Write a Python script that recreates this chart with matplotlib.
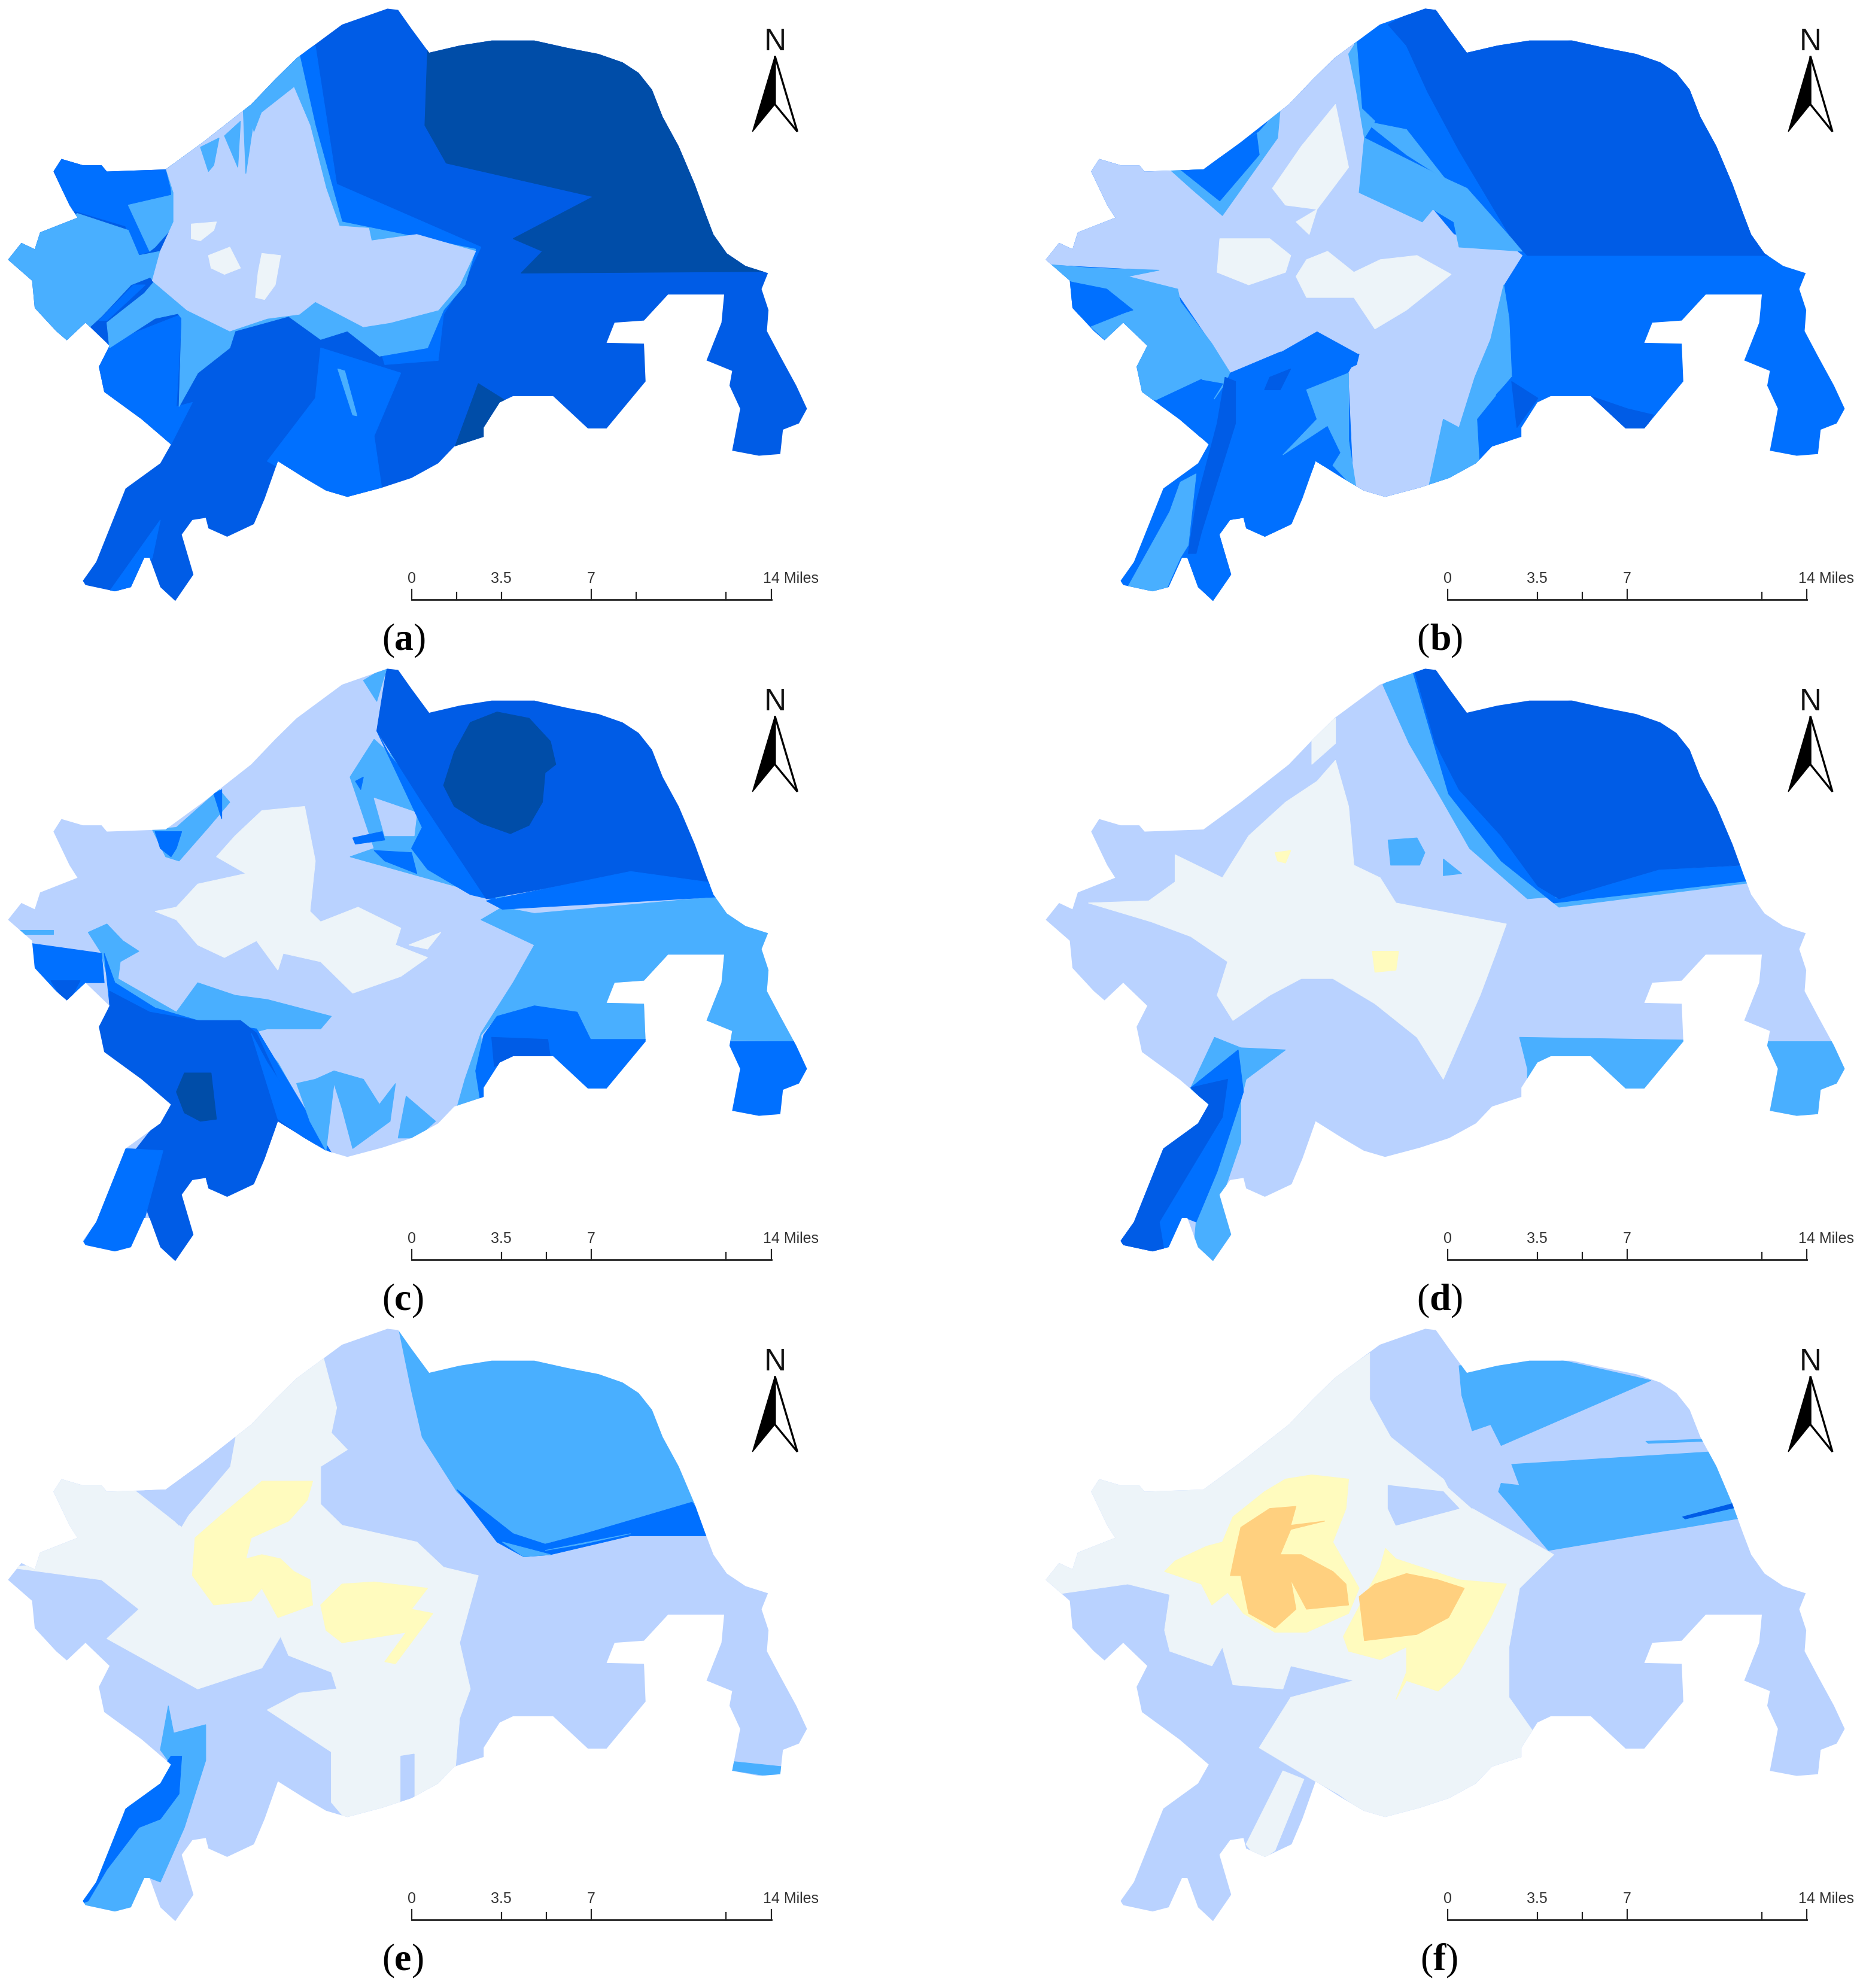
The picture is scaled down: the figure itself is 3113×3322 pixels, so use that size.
"""Six-panel map of the study area, traced by eye from the figure."""
import matplotlib
matplotlib.use('Agg')
import matplotlib.pyplot as plt
from matplotlib.patches import Polygon

W, H = 3113, 3323
SX_L, SX_R, SY = 0.893, 0.8788, 0.7015   # traced units -> pixels

DARK, BLUE, MID, LIGHT = '#004DA8', '#005CE6', '#0070FF', '#49AFFF'
PALE, ICE, YEL, ORA = '#B9D2FF', '#EDF4F9', '#FFFBBE', '#FFD07F'

outline = [(725,22),(745,25),(770,70),(803,127),(860,110),(920,98),(1000,98),(1060,115),(1120,130),(1165,150),(1195,175),(1220,215),(1240,280),
    (1270,350),(1300,440),(1320,510),(1335,560),(1360,605),(1395,635),(1437,652),(1425,690),(1438,740),(1435,790),(1460,850),
    (1490,920),(1510,975),(1495,1010),(1465,1025),(1460,1083),(1420,1087),(1370,1075),(1385,975),(1365,920),(1370,885),
    (1322,860),(1350,770),(1355,703),(1250,703),(1205,765),(1150,770),(1135,818),(1205,820),(1208,910),(1135,1022),
    (1100,1022),(1035,945),(960,945),(935,960),(905,1020),(905,1042),(850,1065),(820,1105),(770,1140),(715,1163),
    (650,1185),(610,1170),(570,1140),(520,1100),(495,1190),(475,1250),(425,1280),(390,1260),(385,1235),(360,1240),
    (340,1275),(362,1370),(328,1433),(300,1400),(280,1330),(270,1330),(245,1400),(215,1410),(160,1395),(155,1385),
    (180,1340),(235,1165),(300,1105),(320,1060),(265,1000),(195,935),(185,875),(205,825),(160,770),(125,812),
    (105,790),(65,735),(60,670),(15,620),(40,580),(65,595),(75,555),(145,520),(130,490),(100,410),
    (115,380),(155,395),(190,395),(200,410),(310,405),(380,340),(470,250),(515,190),(555,140),(640,60)]

# ---- panel a ----
a_nw = [(90,370),(320,395),(330,470),(240,490),(282,600),(250,612),(235,540),(130,500)]
a_band = [(555,130),(590,110),(630,440),(900,590),(870,670),(830,750),(820,860),(720,870),(640,530)]
a_sw = [(180,830),(340,750),(330,970),(360,960),(320,1060),(265,1010),(170,940)]
a_fan = [(600,830),(750,890),(700,1040),(715,1170),(640,1200),(500,1100),(590,950)]
a_arm = [(205,1410),(300,1240),(285,1330),(245,1410)]
a_west = [(0,620),(40,570),(75,545),(145,510),(240,550),(260,610),(300,600),(285,660),(245,680),(190,755),(125,830),(50,740)]
a_nw2 = [(240,490),(325,465),(325,540),(290,590),(280,600)]
a_strip = [(200,770),(270,700),(290,670),(345,745),(290,760),(205,830)]
a_stripe = [(185,765),(250,680),(272,680),(200,765)]
a_light = [(310,400),(470,240),(520,160),(560,130),(590,300),(640,530),(890,595),(870,680),(830,740),(800,830),
    (710,850),(650,790),(600,810),(540,755),(440,790),(430,830),(370,890),(335,970),(340,760),(280,660),(300,600),(325,540),(320,450)]
a_pale = [(310,400),(380,335),(460,250),(475,320),(490,270),(520,240),(550,210),(580,300),
    (610,450),(635,540),(690,545),(695,575),(780,560),(890,600),(860,680),(820,740),(730,770),(680,780),(590,720),
    (560,750),(500,760),(430,790),(350,740),(285,670),(300,600),(325,530),(325,460)]
a_st1 = [(375,352),(410,330),(400,395),(390,410)]
a_st2 = [(420,325),(450,290),(445,400)]
a_st3 = [(455,260),(480,245),(470,330),(460,415)]
a_st4 = [(632,880),(645,885),(668,992),(660,990)]
a_ice1 = [(358,535),(405,530),(400,550),(375,575),(358,570)]
a_ice2 = [(390,610),(430,590),(450,640),(420,655),(395,640)]
a_ice3 = [(490,605),(525,610),(515,680),(495,715),(478,710),(483,650)]
a_ne = [(800,120),(860,100),(960,87),(1060,105),(1165,140),(1220,190),(1255,260),(1290,350),(1320,440),(1355,560),
    (1380,600),(1415,630),(1450,648),(975,652),(1015,600),(960,570),(1110,470),(835,390),(795,300)]
a_se = [(895,915),(945,955),(905,1045),(850,1070)]

# ---- panel b ----
b_ne = [(665,60),(740,10),(780,50),(810,115),(960,87),(1180,130),(1270,240),(1330,420),(1385,590),(1410,610),(930,610),(900,570),(800,360),(740,220),(700,110)]
b_pale = [(0,620),(40,570),(65,585),(75,555),(145,520),(90,410),(115,370),(190,385),(250,405),(290,450),(350,515),
    (415,330),(460,250),(520,165),(600,95),(605,220),(620,330),(610,460),(730,530),(750,500),(790,560),(900,590),
    (920,610),(885,680),(860,810),(830,900),(800,1020),(770,1000),(740,1175),(650,1200),(600,1160),(590,890),(610,845),
    (530,790),(460,840),(365,890),(330,820),(265,700),(170,660),(230,645),(0,630)]
b_band1 = [(590,130),(605,100),(615,260),(640,290),(620,330),(605,220)]
b_band2 = [(620,290),(700,310),(775,430),(700,370)]
b_east = [(620,330),(780,430),(815,450),(900,570),(920,600),(800,590),(790,530),(750,500),(730,530),(610,460)]
b_west = [(5,630),(60,670),(180,740),(100,780),(135,820),(160,770),(205,825),(175,875),(195,945),(225,955),(310,905),
    (355,915),(330,960),(365,890),(330,820),(270,720),(265,690),(170,660),(230,645),(100,640)]
b_west2 = [(50,670),(130,690),(180,740),(100,770),(55,735)]
b_nw_l = [(250,405),(320,405),(420,315),(460,260),(455,330),(350,515),(290,450)]
b_nw_m = [(270,405),(310,405),(415,320),(420,370),(345,480),(290,425)]
b_sw = [(225,955),(310,905),(335,955),(320,1050),(260,1010)]
b_south = [(365,890),(460,840),(610,845),(605,870),(520,920),(500,960),(550,1015),(575,1080),(560,1110),(525,1110),
    (495,1190),(475,1260),(425,1290),(390,1260),(385,1235),(345,1275),(372,1370),(328,1445),(290,1400),(280,1330),
    (250,1300),(300,1140),(320,1060),(340,980)]
b_streak = [(355,900),(375,910),(375,1010),(310,1270),(300,1320),(285,1320),(300,1200),(340,1010)]
b_spot = [(440,900),(480,880),(460,930),(430,930)]
b_arm = [(170,1400),(240,1415),(270,1330),(285,1300),(300,1130),(270,1150),(250,1220)]
b_mid = [(510,930),(590,890),(590,1050),(605,1170),(560,1110),(575,1080),(550,1015),(465,1085),(530,1000)]
b_right = [(740,1175),(770,1000),(800,1020),(830,900),(860,810),(885,680),(895,760),(900,900),(870,940),(835,1110),(800,1140)]
b_low_m = [(840,1110),(835,1000),(880,930),(900,900),(950,950),(915,1020),(915,1040),(860,1070),(860,1110)]
b_low_b = [(900,910),(950,950),(910,1020)]
b_ice1 = [(565,250),(590,400),(530,500),(470,490),(445,450),(500,350)]
b_ice2 = [(345,570),(440,570),(480,610),(470,650),(400,680),(340,650)]
b_ice3 = [(510,620),(550,600),(600,650),(650,620),(720,610),(785,655),(700,740),(640,785),(600,710),(510,710),(490,660)]
b_ice4 = [(490,530),(530,500),(515,560)]
b_bay = [(1050,945),(1120,975),(1170,990),(1150,1030),(1115,1030)]

# ---- panel c ----
c_light = [(655,280),(700,190),(830,340),(950,575),(655,470),(700,450)]
c_hole = [(700,330),(780,365),(775,420),(720,420)]
c_edge = [(705,170),(730,230),(800,330),(930,575),(880,560),(800,500),(770,450),(790,400)]
c_ne = [(705,170),(725,10),(760,20),(810,120),(960,87),(1180,140),(1255,260),(1320,440),(1355,540),(1180,510),(910,570),(790,340)]
c_band = [(910,575),(1180,505),(1350,535),(1350,565),(940,595)]
c_st1 = [(660,425),(715,410),(720,430),(665,440)]
c_st2 = [(700,455),(770,460),(780,510),(720,480)]
c_st3 = [(665,290),(680,280),(675,310)]
c_east = [(900,620),(940,590),(1000,605),(1345,565),(1600,565),(1600,910),(1105,905),(1080,840),(1000,825),(930,850),(900,895),
    (905,1040),(850,1090),(870,1000),(900,890),(960,770),(1000,680)]
c_se_m = [(905,895),(930,850),(1000,825),(1080,840),(1105,905),(1300,905),(1300,1100),(905,1100),(890,980)]
c_se_b = [(920,900),(1025,905),(1030,950),(960,950),(925,970)]
c_arm_e = [(1355,910),(1600,910),(1600,1100),(1350,1100)]
c_west_m = [(50,675),(190,700),(195,770),(160,770),(125,825),(50,740)]
c_west_b = [(95,765),(150,765),(125,825)]
c_west_s = [(30,645),(100,645),(100,655),(40,655)]
c_west_l = [(165,650),(200,630),(230,670),(260,695),(225,720),(220,770),(205,780),(190,700)]
c_strip = [(220,760),(330,840),(370,770),(440,800),(500,810),(620,850),(600,880),(500,880),(470,890),(520,960),(610,1165),
    (520,1090),(470,890),(370,860),(280,840),(205,785)]
c_sw_m = [(195,700),(215,770),(290,830),(370,860),(480,880),(620,1175),(520,1100),(300,1000),(205,820)]
c_sw_b = [(205,790),(280,840),(370,860),(450,860),(480,890),(560,1110),(600,1170),(520,1100),(495,1190),(475,1260),
    (425,1290),(390,1260),(385,1235),(345,1275),(372,1370),(328,1445),(290,1400),(280,1330),(240,1190),(320,1060),(265,1010),(175,940),(175,875),(205,825)]
c_band_sw = [(470,890),(500,960),(610,1170),(570,1140),(520,1095)]
c_arm = [(235,1165),(305,1170),(270,1335),(245,1415),(150,1400),(180,1340)]
c_core = [(345,985),(395,985),(405,1095),(375,1100),(345,1080),(330,1030)]
c_eye = [(930,125),(990,140),(1030,195),(1040,250),(1020,270),(1015,340),(990,395),(955,415),(900,390),(850,350),(830,300),(850,220),(880,150)]
c_fan1 = [(555,1010),(590,1000),(625,980),(680,1000),(710,1060),(740,1010),(730,1100),(660,1165),(640,1070),(625,1010),(610,1170),(580,1100)]
c_fan2 = [(745,1140),(760,1040),(815,1100),(780,1140)]
c_nw_l = [(285,405),(330,400),(410,310),(430,340),(390,400),(335,480),(310,470)]
c_nw_m = [(290,410),(340,410),(330,450),(320,470),(300,450)]
c_nw_s = [(400,320),(415,310),(415,380)]
c_top = [(680,50),(725,15),(705,100)]
c_ice1 = [(490,360),(570,350),(590,480),(580,600),(600,625),(670,590),(750,640),(740,680),(800,710),(750,755),(660,795),
    (600,720),(530,700),(520,740),(480,670),(420,710),(370,680),(330,620),(290,600),(330,590),(370,535),(460,510),(405,470),(440,420)]
c_ice2 = [(765,680),(825,650),(800,690)]

# ---- panel d ----
d_light = [(655,60),(710,15),(780,320),(880,480),(990,590),(1365,530),(1365,525),(930,570),(820,450),(770,340),(705,200)]
d_band = [(710,20),(730,15),(800,310),(880,420),(985,570),(1180,500),(1360,490),(1365,525),(980,580),(880,480),(780,320)]
d_ne = [(715,25),(740,10),(780,50),(810,115),(960,87),(1180,130),(1275,240),(1340,490),(1180,500),(990,570),(950,540),(880,420),(800,310),(755,200)]
d_p1 = [(665,430),(720,425),(735,460),(725,490),(670,490)]
d_p2 = [(770,475),(805,510),(770,515)]
d_se = [(915,900),(1300,908),(1300,1100),(930,1100),(930,975)]
d_arm_e = [(1372,910),(1600,910),(1600,1100),(1380,1100)]
d_ice = [(565,240),(590,350),(600,490),(650,520),(680,580),(890,630),(870,700),(840,800),(770,1000),(720,900),(640,820),
    (560,760),(500,760),(440,800),(370,860),(340,800),(360,720),(290,660),(215,625),(95,580),(210,575),(260,530),(260,465),(350,520),(400,420),(470,340),(530,290)]
d_ice2 = [(520,170),(565,140),(565,200),(520,250)]
d_y1 = [(450,460),(480,455),(470,485),(455,480)]
d_y2 = [(635,695),(685,695),(680,740),(640,745)]
d_sw_l = [(290,1020),(335,900),(385,925),(470,930),(395,1000),(385,1050),(385,1150),(355,1260),(345,1275),(372,1370),(330,1445),(295,1410),(300,1340)]
d_sw_m = [(290,1020),(380,930),(390,1030),(340,1220),(300,1340),(280,1330),(245,1415),(145,1400),(235,1165),(320,1060)]
d_sw_b = [(290,1020),(360,1000),(350,1090),(230,1340),(240,1415),(145,1400),(235,1165),(320,1060)]

# ---- panel e ----
e_ice = [(90,410),(115,370),(190,385),(250,405),(340,495),(440,280),(470,240),(555,130),(605,90),(630,210),(620,270),
    (650,310),(600,350),(600,440),(640,490),(780,530),(830,590),(895,610),(860,770),(880,880),(860,950),(850,1100),(820,1115),
    (650,1195),(620,1150),(620,1030),(500,930),(560,890),(630,880),(620,840),(540,800),(525,755),(490,830),(370,880),(200,760),
    (260,690),(190,620),(15,590),(65,585),(75,545),(145,520),(130,490)]
e_p1 = [(270,405),(310,405),(380,340),(440,280),(430,350),(370,440),(335,490)]
e_y1 = [(490,385),(585,385),(575,430),(540,480),(470,520),(460,570),(490,560),(525,570),(550,600),(580,620),(585,680),(520,710),(490,640),(470,670),(400,680),(360,610),(365,520),(410,470)]
e_y2 = [(640,630),(700,625),(800,640),(770,690),(810,700),(740,820),(720,815),(760,745),(640,770),(610,740),(600,680)]
e_p2 = [(750,1040),(775,1035),(775,1150),(750,1155)]
e_ne = [(745,15),(780,60),(810,115),(960,87),(1180,130),(1265,260),(1310,435),(1100,510),(1030,530),(980,560),(855,410),(790,280),(770,170)]
e_ne_m = [(855,405),(960,510),(1020,535),(1095,510),(1295,435),(1345,515),(1180,515),(1030,560),(980,565),(930,530)]
e_ne_l1 = [(1020,550),(1180,510),(1090,535)]
e_ne_l2 = [(940,530),(980,565),(1030,560)]
e_sw_l = [(315,920),(325,985),(385,965),(385,1050),(345,1210),(300,1340),(280,1330),(245,1415),(145,1400),(240,1160),(320,1060),(300,1025)]
e_sw_m = [(320,1040),(340,1040),(335,1130),(300,1190),(260,1210),(200,1310),(165,1385),(145,1395),(235,1165),(270,1130)]
e_tip = [(1365,1052),(1500,1070),(1500,1100),(1360,1072)]

# ---- panel f ----
f_ice = [(0,620),(40,570),(65,585),(75,545),(145,520),(90,410),(115,370),(190,385),(310,405),(470,240),(520,175),(630,80),(630,190),
    (670,280),(780,390),(825,450),(980,560),(915,640),(895,780),(895,900),(940,980),(925,1040),(870,1090),(840,1125),(655,1205),
    (570,1130),(520,1095),(420,1020),(480,900),(600,860),(480,825),(465,880),(370,870),(350,780),(330,825),(250,790),(240,740),(250,655),(170,630),(30,655)]
f_p1 = [(665,395),(770,410),(800,450),(680,490),(665,450)]
f_p2 = [(740,300),(790,370),(825,450),(780,400)]
f_ice2 = [(465,1075),(505,1095),(450,1265),(420,1290),(395,1250)]
f_y1 = [(520,370),(590,380),(585,450),(560,530),(610,640),(590,700),(510,745),(450,745),(390,700),(360,650),(330,680),(310,630),(240,600),(260,575),(320,540),(350,530),(370,470),(430,410),(470,380)]
f_y2 = [(660,545),(680,570),(800,620),(890,630),(860,710),(800,840),(760,885),(700,860),(680,905),(700,840),(700,780),(650,810),(590,790),(580,755),(620,660),(650,590)]
f_o1 = [(440,450),(490,445),(480,490),(545,480),(480,500),(460,560),(500,560),(560,600),(585,630),(590,680),(510,690),(480,620),(490,690),(450,735),(400,700),(385,610),(365,610),(375,550),(385,495)]
f_o2 = [(700,605),(760,620),(810,640),(780,710),(720,750),(620,765),(610,660),(640,630)]
f_ne1 = [(800,110),(960,87),(1165,145),(880,300),(860,250),(825,265),(805,180)]
f_ne2 = [(900,345),(1280,315),(1350,470),(970,550),(875,410),(880,390),(915,395)]
f_thin = [(1155,290),(1265,285),(1265,290),(1160,295)]
f_streak = [(1225,470),(1330,435),(1335,445),(1230,475)]

layers_a = [(a_nw,MID),(a_band,MID),(a_sw,MID),(a_fan,MID),(a_arm,MID),(a_west,LIGHT),(a_nw2,LIGHT),(a_strip,LIGHT),(a_stripe,MID),
    (a_light,LIGHT),(a_pale,PALE),(a_st1,LIGHT),(a_st2,LIGHT),(a_st3,LIGHT),(a_st4,LIGHT),(a_ice1,ICE),(a_ice2,ICE),(a_ice3,ICE),(a_ne,DARK),(a_se,DARK)]
layers_b = [(b_ne,BLUE),(b_pale,PALE),(b_band1,LIGHT),(b_band2,LIGHT),(b_east,LIGHT),(b_west,LIGHT),(b_west2,MID),(b_nw_l,LIGHT),(b_nw_m,MID),
    (b_sw,MID),(b_south,MID),(b_streak,BLUE),(b_spot,BLUE),(b_arm,LIGHT),(b_mid,LIGHT),(b_right,LIGHT),(b_low_m,MID),(b_low_b,BLUE),
    (b_ice1,ICE),(b_ice2,ICE),(b_ice3,ICE),(b_ice4,ICE),(b_bay,BLUE)]
layers_c = [(c_light,LIGHT),(c_hole,PALE),(c_edge,MID),(c_ne,BLUE),(c_east,LIGHT),(c_band,MID),(c_st1,MID),(c_st2,MID),(c_st3,MID),(c_se_m,MID),
    (c_se_b,BLUE),(c_arm_e,MID),(c_west_s,LIGHT),(c_west_l,LIGHT),(c_strip,LIGHT),(c_sw_m,MID),(c_sw_b,BLUE),(c_band_sw,MID),(c_west_m,MID),(c_west_b,BLUE),(c_arm,MID),(c_core,DARK),
    (c_eye,DARK),(c_fan1,LIGHT),(c_fan2,LIGHT),(c_nw_l,LIGHT),(c_nw_m,MID),(c_nw_s,MID),(c_top,LIGHT),(c_ice1,ICE),(c_ice2,ICE)]
layers_d = [(d_light,LIGHT),(d_band,MID),(d_ne,BLUE),(d_p1,LIGHT),(d_p2,LIGHT),(d_se,LIGHT),(d_arm_e,LIGHT),(d_ice,ICE),(d_ice2,ICE),(d_y1,YEL),(d_y2,YEL),
    (d_sw_l,LIGHT),(d_sw_m,MID),(d_sw_b,BLUE)]
layers_e = [(e_ice,ICE),(e_p1,PALE),(e_y1,YEL),(e_y2,YEL),(e_p2,PALE),(e_ne,LIGHT),(e_ne_m,MID),(e_ne_l1,LIGHT),(e_ne_l2,LIGHT),(e_sw_l,LIGHT),(e_sw_m,MID),(e_tip,LIGHT)]
layers_f = [(f_ice,ICE),(f_p1,PALE),(f_p2,PALE),(f_ice2,ICE),(f_y1,YEL),(f_y2,YEL),(f_o1,ORA),(f_o2,ORA),(f_ne1,LIGHT),(f_ne2,LIGHT),(f_thin,LIGHT),(f_streak,BLUE)]

letters = ['a', 'b', 'c', 'd', 'e', 'f']
base_colors = [BLUE, MID, PALE, PALE, PALE, PALE]
all_layers = [layers_a, layers_b, layers_c, layers_d, layers_e, layers_f]
bar_miles = [[0, 1.75, 3.5, 7, 8.75, 12.25, 14]] + [[0, 3.5, 5.25, 7, 12.25, 14]] * 5
bar_labels = [(0, '0'), (3.5, '3.5'), (7, '7'), (14, '14 Miles')]

fig = plt.figure(figsize=(W / 100, H / 100), dpi=100)
ax = fig.add_axes([0, 0, 1, 1])
ax.set_xlim(0, W); ax.set_ylim(H, 0); ax.axis('off')

for i, let in enumerate(letters):
    right = i % 2 == 1
    y0 = 1103 * (i // 2)
    fy = lambda v: y0 + v * SY
    # traced coordinates were read in slightly different frames on the two sides
    if right:
        fx = lambda v: 1735 + v * SX_R
        fo = lambda v: 1734 + v * SX_L
    else:
        fx = fo = lambda v: v * SX_L
    base = Polygon([(fo(x), fy(y)) for x, y in outline], fc=base_colors[i], lw=0, zorder=1)
    ax.add_patch(base)
    for pts, col in all_layers[i]:
        p = Polygon([(fx(x), fy(y)) for x, y in pts], fc=col, ec=col, lw=0.8, zorder=2)
        ax.add_patch(p)
        p.set_clip_path(base)

    # scale bar
    bx0, per_mile = (778, 683 / 14) if right else (770, 673 / 14)
    ax.plot([fx(bx0), fx(bx0 + 14 * per_mile)], [fy(1430), fy(1430)], color='#222', lw=2, zorder=3)
    for m in bar_miles[i]:
        top = 1405 if m in (0, 7, 14) else 1412
        ax.plot([fx(bx0 + m * per_mile)] * 2, [fy(top), fy(1430)], color='#222', lw=1.6, zorder=3)
    for m, lab in bar_labels:
        ha = 'center'
        xx = fx(bx0 + m * per_mile)
        if lab.startswith('14'):
            ha, xx = 'left', xx - 14
        ax.text(xx, fy(1388), lab, ha=ha, va='baseline', fontsize=18, color='#333', family='Liberation Sans')

    # north arrow
    nx = 1468 if right else 1450
    ax.text(fx(nx), fy(120), 'N', ha='center', va='baseline', fontsize=37, color='#111', family='Liberation Sans')
    left_half = [(fx(nx), fy(135)), (fx(nx), fy(250)), (fx(nx - 42), fy(315))]
    right_half = [(fx(nx), fy(135)), (fx(nx + 42), fy(315)), (fx(nx), fy(250))]
    ax.add_patch(Polygon(left_half, fc='black', ec='black', lw=1, zorder=3))
    ax.add_patch(Polygon(right_half, fc='white', ec='black', lw=2.4, joinstyle='miter', zorder=3))

    # panel letter: regular brackets, bold letter; x chained off the previous piece, same baseline
    cx = fx(763 if right else 757)
    by = fy(1548)
    t = ax.text(cx - (32 if let == 'f' else 38), by, '(', fontsize=46, va='baseline', family='Liberation Serif')
    t2 = ax.annotate(let, xy=(1, by), xycoords=(t, 'data'), fontsize=46, fontweight='bold', family='Liberation Serif',
                     annotation_clip=False, va='baseline')
    ax.annotate(')', xy=(1, by), xycoords=(t2, 'data'), fontsize=46, family='Liberation Serif', annotation_clip=False,
                va='baseline')

fig.savefig('out.png', dpi=100)
